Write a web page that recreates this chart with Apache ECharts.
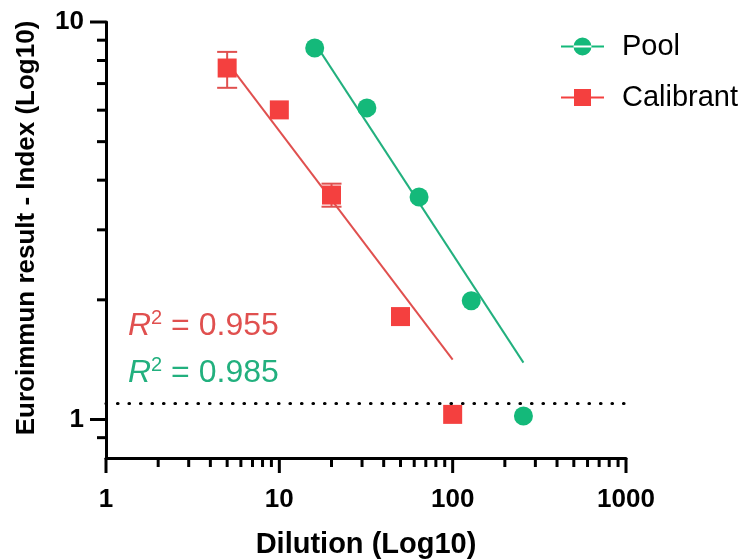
<!DOCTYPE html>
<html>
<head>
<meta charset="utf-8">
<script src="https://cdn.jsdelivr.net/npm/echarts@6/dist/echarts.min.js"></script>
<style>html,body{margin:0;padding:0;background:#fff}#c{width:751px;height:560px}</style>
</head>
<body>
<div id="c"></div>
<script>
// ---- data ----
var poolDilution = [16, 32, 64, 128, 256];
var poolValues = [8.6, 6.08, 3.63, 1.99, 1.02];
var calDilution = [5, 10, 20, 50, 100];
var calValues = [7.66, 6.01, 3.67, 1.815, 1.03];
var calErrLow = [6.83, null, 3.43, null, null];
var calErrHigh = [8.41, null, 3.92, null, null];
var poolFitX = [16, 256];
var poolFitY = [8.86, 1.39];
var calFitX = [5, 100];
var calFitY = [7.93, 1.415];
var cutoff = 1.1;
var r2Cal = '0.955';
var r2Pool = '0.985';
var xMajorTicks = [1, 10, 100, 1000];
var xMinorTicks = [2,3,4,5,6,7,8,9,20,30,40,50,60,70,80,90,200,300,400,500,600,700,800,900];
var yMajorTicks = [1, 10];
var yMinorTicks = [0.9,2,3,4,5,6,7,8,9];
var xMin = 1, xMax = 1000, yMin = 0.8, yMax = 10;

var GREEN = '#14b97a', RED = '#f4403f';
var GREEN_LINE = '#22b07e', RED_LINE = '#e0504f';
var FONT = 'Liberation Sans, Arial, sans-serif';

function zip(a, b) { return a.map(function (v, i) { return [v, b[i]]; }); }
function isPow10(v) { var l = Math.log10(v); return Math.abs(l - Math.round(l)) < 1e-6; }

var errData = [];
calDilution.forEach(function (x, i) {
  if (calErrLow[i] != null) errData.push([x, calErrLow[i], calErrHigh[i]]);
});

function r2Text(id, top, val, color) {
  return {type: 'text', id: id, left: 128, top: top, silent: true, z: 10,
    style: {text: '{r|R}{s|2}{t| = ' + val + '}', fill: color,
      rich: {r: {fontFamily: FONT, fontStyle: 'italic', fontSize: 32, lineHeight: 36, fill: color},
             s: {fontFamily: FONT, fontSize: 20, lineHeight: 20, verticalAlign: 'top', fill: color},
             t: {fontFamily: FONT, fontSize: 32, lineHeight: 36, fill: color}}}};
}

var chart = echarts.init(document.getElementById('c'));
chart.setOption({
  animation: false,
  grid: {left: 106, right: 125, top: 22, bottom: 102, containLabel: false, outerBoundsMode: 'none'},
  xAxis: {
    type: 'log', logBase: 10, min: xMin, max: xMax,
    name: 'Dilution (Log10)', nameLocation: 'middle', nameGap: 72,
    nameTextStyle: {fontFamily: FONT, fontWeight: 'bold', fontSize: 29, color: '#000'},
    axisLine: {lineStyle: {color: '#000', width: 3}},
    axisTick: {show: false},
    splitLine: {show: false},
    axisLabel: {fontFamily: FONT, fontWeight: 'bold', fontSize: 26, color: '#000', margin: 29,
      showMinLabel: true, showMaxLabel: true,
      formatter: function (v) { return isPow10(v) ? String(Math.round(v)) : ''; }}
  },
  yAxis: {
    type: 'log', logBase: 10, min: yMin, max: yMax,
    name: 'Euroimmun result - Index (Log10)', nameLocation: 'middle', nameGap: 66,
    nameTextStyle: {fontFamily: FONT, fontWeight: 'bold', fontSize: 26, color: '#000', padding: [0, 0, 0, 24]},
    axisLine: {lineStyle: {color: '#000', width: 3}},
    axisTick: {show: false},
    splitLine: {show: false},
    axisLabel: {fontFamily: FONT, fontWeight: 'bold', fontSize: 26, color: '#000', margin: 22,
      showMinLabel: true, showMaxLabel: true,
      formatter: function (v) { return isPow10(v) ? String(Math.round(v)) : ''; }}
  },
  legend: {
    orient: 'vertical', left: 556, top: 27, itemWidth: 43, itemHeight: 18, itemGap: 22,
    textStyle: {fontFamily: FONT, fontSize: 29, color: '#000', padding: [0, 0, 0, 13]},
    data: [
      {name: 'Pool', icon: 'path://M0,8 H43 V10 H0 Z M12.5,9 A9,9 0 1,0 30.5,9 A9,9 0 1,0 12.5,9 Z'},
      {name: 'Calibrant', icon: 'path://M0,8 H43 V10 H0 Z M13,0.5 H30 V17.5 H13 Z'}
    ]
  },
  graphic: [r2Text('r2cal', 308, r2Cal, RED_LINE), r2Text('r2pool', 355, r2Pool, GREEN_LINE)],
  series: [
    {type: 'line', name: 'calFit', data: zip(calFitX, calFitY), showSymbol: false, symbol: 'none',
      lineStyle: {color: RED_LINE, width: 2}, z: 2, silent: true,
      markLine: {silent: true, symbol: 'none', label: {show: false},
        lineStyle: {color: '#000', type: [0.5, 11], width: 3.2, cap: 'round'},
        data: [{yAxis: cutoff}]}},
    {type: 'line', name: 'poolFit', data: zip(poolFitX, poolFitY), showSymbol: false, symbol: 'none',
      lineStyle: {color: GREEN_LINE, width: 2}, z: 2, silent: true},
    {type: 'custom', name: 'calErr', silent: true, z: 3, data: errData,
      renderItem: function (params, api) {
        var lo = api.coord([api.value(0), api.value(1)]);
        var hi = api.coord([api.value(0), api.value(2)]);
        var w = 10;
        var st = {stroke: RED_LINE, lineWidth: 2};
        return {type: 'group', children: [
          {type: 'line', shape: {x1: lo[0], y1: lo[1], x2: hi[0], y2: hi[1]}, style: st},
          {type: 'line', shape: {x1: lo[0] - w, y1: lo[1], x2: lo[0] + w, y2: lo[1]}, style: st},
          {type: 'line', shape: {x1: hi[0] - w, y1: hi[1], x2: hi[0] + w, y2: hi[1]}, style: st}
        ]};
      }},
    {type: 'scatter', name: 'Pool', data: zip(poolDilution, poolValues), symbol: 'circle', symbolSize: 19,
      itemStyle: {color: GREEN, opacity: 1}, z: 4},
    {type: 'scatter', name: 'Calibrant', data: zip(calDilution, calValues), symbol: 'rect', symbolSize: 19,
      itemStyle: {color: RED, opacity: 1}, z: 4}
  ]
});

// axis ticks (log-spaced minor ticks), positioned through the chart's own scales
var ticks = [];
function addTicks(vals, isX, len, prefix) {
  vals.forEach(function (v, i) {
    var p = chart.convertToPixel({gridIndex: 0}, isX ? [v, yMin] : [xMin, v]);
    var shape = isX ? {x1: p[0], y1: p[1], x2: p[0], y2: p[1] + len}
                    : {x1: p[0], y1: p[1], x2: p[0] - len, y2: p[1]};
    ticks.push({type: 'line', id: prefix + i, silent: true, z: 5, shape: shape,
      style: {stroke: '#000', lineWidth: 3}});
  });
}
addTicks(xMajorTicks, true, 15, 'xM');
addTicks(xMinorTicks, true, 9, 'xm');
addTicks(yMajorTicks, false, 16, 'yM');
addTicks(yMinorTicks, false, 9, 'ym');
chart.setOption({graphic: ticks});
</script>
</body>
</html>
